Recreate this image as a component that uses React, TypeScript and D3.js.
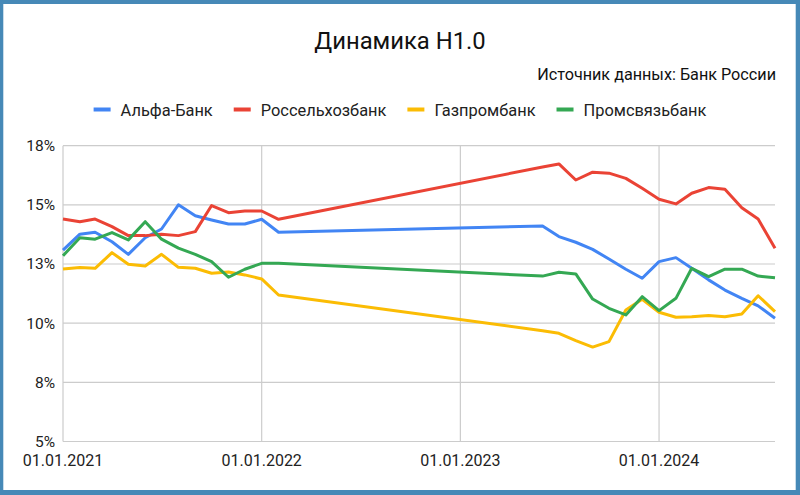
import React, { useLayoutEffect, useRef, useState } from "react";
import * as d3 from "d3";

const dates = [
  "2021-01-01", "2021-02-01", "2021-03-01", "2021-04-01", "2021-05-01", "2021-06-01", "2021-07-01",
  "2021-08-01", "2021-09-01", "2021-10-01", "2021-11-01", "2021-12-01", "2022-01-01", "2022-02-01",
  "2023-06-01", "2023-07-01", "2023-08-01", "2023-09-01", "2023-10-01", "2023-11-01", "2023-12-01",
  "2024-01-01", "2024-02-01", "2024-03-01", "2024-04-01", "2024-05-01", "2024-06-01", "2024-07-01",
  "2024-08-01",
];

const alfaBank = [
  13.09, 13.76, 13.84, 13.44, 12.91, 13.61, 13.98, 15.0, 14.54, 14.36, 14.19, 14.19, 14.39, 13.84,
  14.11, 13.66, 13.42, 13.12, 12.71, 12.28, 11.9, 12.6, 12.77, 12.32, 11.83, 11.4, 11.05, 10.73, 10.21,
];
const rosselkhozbank = [
  14.4, 14.29, 14.4, 14.08, 13.7, 13.7, 13.76, 13.7, 13.87, 14.97, 14.67, 14.74, 14.74, 14.39,
  16.6, 16.73, 16.05, 16.38, 16.34, 16.12, 15.7, 15.24, 15.04, 15.49, 15.73, 15.66, 14.88, 14.4, 13.17,
];
const gazprombank = [
  12.29, 12.35, 12.32, 12.98, 12.49, 12.42, 12.91, 12.36, 12.32, 12.11, 12.16, 12.04, 11.87, 11.19,
  9.68, 9.57, 9.26, 8.99, 9.22, 10.56, 11.01, 10.46, 10.25, 10.27, 10.32, 10.27, 10.39, 11.16, 10.49,
];
const promsvyazbank = [
  12.85, 13.61, 13.55, 13.83, 13.52, 14.29, 13.55, 13.17, 12.91, 12.6, 11.94, 12.28, 12.53, 12.53,
  11.99, 12.15, 12.08, 11.02, 10.63, 10.35, 11.12, 10.53, 11.05, 12.32, 11.97, 12.28, 12.28, 11.99, 11.92,
];

const seriesNames = ["Альфа-Банк", "Россельхозбанк", "Газпромбанк", "Промсвязьбанк"];
const seriesColors = ["#4285F4", "#EA4335", "#FBBC04", "#34A853"];
const seriesValues = [alfaBank, rosselkhozbank, gazprombank, promsvyazbank];

const yTicks = [5, 7.5, 10, 12.5, 15, 17.5];
const yTickLabels = ["5%", "8%", "10%", "13%", "15%", "18%"];
const xTicks = ["2021-01-01", "2022-01-01", "2023-01-01", "2024-01-01"];
const xTickLabels = ["01.01.2021", "01.01.2022", "01.01.2023", "01.01.2024"];

const titleText = "Динамика Н1.0";
const subtitleText = "Источник данных: Банк России";

const W = 800;
const H = 495;
const FONT = "Roboto, 'Noto Sans', sans-serif";

export default function App() {
  const parse = d3.utcParse("%Y-%m-%d");
  const x = d3
    .scaleUtc()
    .domain([parse("2021-01-01")!, parse("2024-08-01")!])
    .range([63, 775]);
  const y = d3.scaleLinear().domain([5, 17.5]).range([441.5, 145.7]);

  const parsedDates = dates.map((d) => parse(d)!);
  const line = d3
    .line<number>()
    .x((_, i) => x(parsedDates[i]))
    .y((v) => y(v));

  const legendRefs = useRef<(SVGTextElement | null)[]>([]);
  const [widths, setWidths] = useState<number[]>(seriesNames.map(() => 90));
  useLayoutEffect(() => {
    const w = legendRefs.current.map((t) => (t ? t.getComputedTextLength() : 90));
    setWidths(w);
  }, []);

  const swatchW = 17;
  const swatchGap = 10;
  const itemGap = 21;
  const itemWidths = widths.map((w) => swatchW + swatchGap + w);
  const total = d3.sum(itemWidths) + itemGap * (seriesNames.length - 1);
  let cursor = W / 2 - total / 2;
  const legendX = itemWidths.map((w) => {
    const p = cursor;
    cursor += w + itemGap;
    return p;
  });

  return (
    <div style={{ position: "absolute", left: 0, top: 0 }}>
      <svg width={W} height={H} style={{ display: "block" }}>
        <rect x={0} y={0} width={W} height={H} fill="#4689B7" />
        <rect x={3.3} y={4} width={792.4} height={486} fill="#ffffff" />
        <text x={400} y={49} textAnchor="middle" fontFamily={FONT} fontSize={23.8} fill="#111">
          {titleText}
        </text>
        <text x={776} y={80} textAnchor="end" fontFamily={FONT} fontSize={16.2} fill="#111">
          {subtitleText}
        </text>
        {seriesNames.map((name, i) => (
          <g key={name} transform={`translate(${legendX[i]},0)`}>
            <rect x={0} y={107.5} width={swatchW} height={4} fill={seriesColors[i]} />
            <text
              ref={(el) => {
                legendRefs.current[i] = el;
              }}
              x={swatchW + swatchGap}
              y={115.5}
              fontFamily={FONT}
              fontSize={16.4}
              fill="#222"
            >
              {name}
            </text>
          </g>
        ))}
        {yTicks.map((t) => (
          <line key={"gy" + t} x1={63} x2={775} y1={y(t)} y2={y(t)} stroke="#cccccc" strokeWidth={1.2} />
        ))}
        {xTicks.map((t) => (
          <line
            key={"gx" + t}
            x1={x(parse(t)!)}
            x2={x(parse(t)!)}
            y1={y(5)}
            y2={y(17.5)}
            stroke="#cccccc"
            strokeWidth={1.2}
          />
        ))}
        {yTicks.map((t, i) => (
          <text
            key={"ly" + t}
            x={55}
            y={y(t)}
            dy="0.35em"
            textAnchor="end"
            fontFamily={FONT}
            fontSize={15.5}
            fill="#222"
          >
            {yTickLabels[i]}
          </text>
        ))}
        {xTicks.map((t, i) => (
          <text
            key={"lx" + t}
            x={x(parse(t)!)}
            y={466}
            textAnchor="middle"
            fontFamily={FONT}
            fontSize={16}
            fill="#222"
          >
            {xTickLabels[i]}
          </text>
        ))}
        {seriesValues.map((vals, i) => (
          <path
            key={seriesNames[i]}
            d={line(vals) || ""}
            fill="none"
            stroke={seriesColors[i]}
            strokeWidth={3}
            strokeLinejoin="round"
          />
        ))}
      </svg>
    </div>
  );
}
